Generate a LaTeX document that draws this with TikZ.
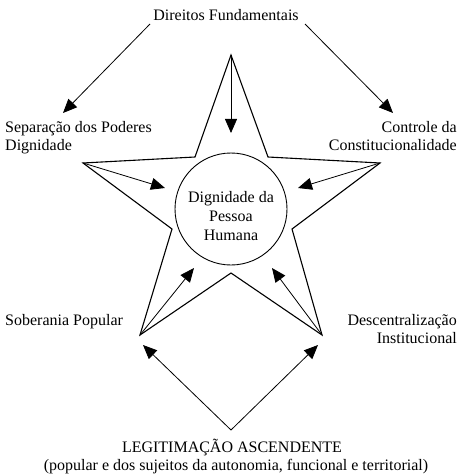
\documentclass[tikz,border=0pt]{standalone}
\usepackage{fontspec}
\setmainfont{Liberation Serif}
\usetikzlibrary{arrows.meta}
\begin{document}
\begin{tikzpicture}[x=1pt,y=-1pt,
  arr/.style={-{Triangle[length=14pt,width=12pt]}, line width=0.8pt},
  lbl/.style={font=\fontsize{16}{18}\selectfont, inner sep=0pt},
  starline/.style={line width=1.1pt, line join=miter}]
\useasboundingbox (0,0) rectangle (459,476);
% star vertices
\coordinate (T) at (231,55);
\coordinate (URi) at (268,157);
\coordinate (R) at (380,163);
\coordinate (Ri) at (292,229);
\coordinate (BR) at (322,335);
\coordinate (Bi) at (231,273);
\coordinate (BL) at (140,335);
\coordinate (Li) at (172,229);
\coordinate (L) at (83,163);
\coordinate (ULi) at (195,157);
\draw[starline] (T) -- (URi) -- (R) -- (Ri) -- (BR) -- (Bi) -- (BL) -- (Li) -- (L) -- (ULi) -- cycle;
% circle
\node[draw, circle, line width=0.9pt, minimum size=112pt, inner sep=0pt] (dig) at (231,209) {};
\node[lbl, anchor=base] (dig1) at (231,202) {Dignidade da};
\node[lbl, anchor=base] (dig2) at (231,221) {Pessoa};
\node[lbl, anchor=base] (dig3) at (231,240) {Humana};
% labels
\node[lbl, anchor=base] (df) at (226,21) {Direitos Fundamentais};
\node[lbl, anchor=base west] (sep1) at (5,132) {Separação dos Poderes};
\node[lbl, anchor=base west] (sep2) at (5,150) {Dignidade};
\node[lbl, anchor=base east] (con1) at (457,132) {Controle da};
\node[lbl, anchor=base east] (con2) at (457,150) {Constitucionalidade};
\node[lbl, anchor=base west] (sob) at (5,325) {Soberania Popular};
\node[lbl, anchor=base east] (des1) at (457,325) {Descentralização};
\node[lbl, anchor=base east] (des2) at (457,343) {Institucional};
\node[lbl, anchor=base] (leg1) at (232,452) {LEGITIMAÇÃO ASCENDENTE};
\node[lbl, anchor=base] (leg2) at (236,470) {(popular e dos sujeitos da autonomia, funcional e territorial)};
% arrow end points
\coordinate (dfL) at (150,24);
\coordinate (dfR) at (305,24);
\coordinate (sepT) at (63,113);
\coordinate (conT) at (393,113);
\coordinate (topT) at (231,133);
\coordinate (lT) at (165,188);
\coordinate (rT) at (298,188);
\coordinate (blT) at (194,268);
\coordinate (brT) at (272,268);
\coordinate (legS) at (231,430);
\coordinate (legL) at (143,345);
\coordinate (legR) at (318,345);
% arrows
\draw[arr] (dfL) -- (sepT);
\draw[arr] (dfR) -- (conT);
\draw[arr] (T) -- (topT);
\draw[arr] (L) -- (lT);
\draw[arr] (R) -- (rT);
\draw[arr] (BL) -- (blT);
\draw[arr] (BR) -- (brT);
\draw[arr] (legS) -- (legL);
\draw[arr] (legS) -- (legR);
\end{tikzpicture}
\end{document}
